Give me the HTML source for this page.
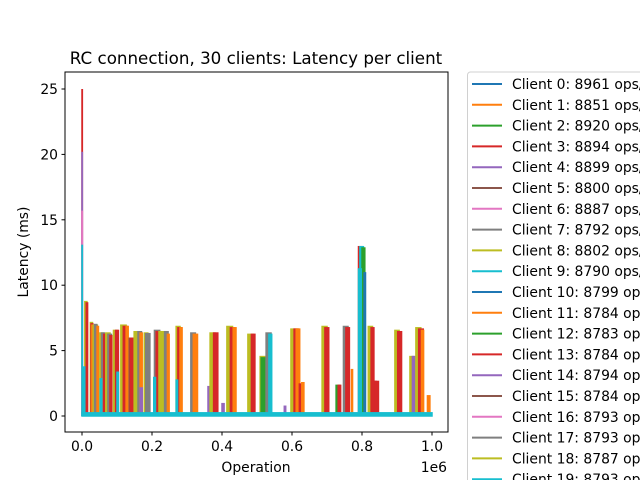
<!DOCTYPE html>
<html><head><meta charset="utf-8"><style>
html,body{margin:0;padding:0;background:#fff;width:640px;height:480px;overflow:hidden}
svg{font-family:"DejaVu Sans","Liberation Sans",sans-serif}
</style></head><body>
<svg id="chart" width="640" height="480" viewBox="0 0 640 480" xmlns="http://www.w3.org/2000/svg">
<rect x="0" y="0" width="640" height="480" fill="#fff"/>
<text x="256" y="64" font-size="16.7" text-anchor="middle">RC connection, 30 clients: Latency per client</text>
<g id="marks"></g>
<rect x="65" y="72" width="383" height="360" fill="none" stroke="#000" stroke-width="1"/>
<g id="xt"></g>
<g id="yt"></g>
<text x="256" y="472" font-size="13.9" text-anchor="middle">Operation</text>
<text x="447" y="472" font-size="13.9" text-anchor="end">1e6</text>
<text transform="translate(28,252) rotate(-90)" font-size="13.9" text-anchor="middle">Latency (ms)</text>
<g id="legend">
<rect x="467.5" y="72" width="200" height="420" rx="3" fill="#fff" stroke="#d0d0d0"/>
</g>
</svg>
<script>
const colors=["#1f77b4","#ff7f0e","#2ca02c","#d62728","#9467bd","#8c564b","#e377c2","#7f7f7f","#bcbd22","#17becf"];
const clientOps=[8961,8851,8920,8894,8899,8800,8887,8792,8802,8790,8799,8784,8783,8784,8794,8784,8793,8793,8787,8793];
const xTicks=[0,0.2,0.4,0.6,0.8,1.0];
const yTicks=[0,5,10,15,20,25];
const baselineLat=0.3;
// spikes: start op (K), end op (K), latency ms, client
const spikeStart=[0,0,0,0,8,12,4,24,26,28,32,36,43,51,56,62,52,68,74,80,90,96,100,111,118,126,135,138,149,160,166,166,178,182,207,212,220,205,228,236,244,269,274,280,269,311,318,360,366,376,400,414,424,432,474,484,509,512,526,534,578,597,606,612,621,628,686,694,726,732,747,754,770,790,794,800,806,790,818,826,830,838,894,902,937,944,954,962,970,987];
const spikeEnd=[1,1,1,1,14,16,8,30,31,32,44,42,47,62,64,66,56,80,84,85,100,104,104,126,130,132,145,147,168,170,172,172,188,194,222,224,228,210,240,246,249,280,284,286,273,324,330,366,380,388,406,430,436,440,490,494,526,522,540,542,582,614,618,622,632,634,700,705,736,739,760,764,773,800,804,808,810,798,830,834,840,847,906,913,948,954,968,975,976,994];
const spikeLat=[25,20.2,15.7,13.1,8.8,8.7,3.8,7.2,7.1,7.0,7.0,7.05,6.9,6.4,6.4,6.3,2.9,6.4,6.3,6.2,6.6,6.6,3.4,7.0,6.9,6.9,6.0,6.0,6.5,6.5,6.4,2.2,6.4,6.35,6.6,6.5,6.5,3.0,6.5,6.5,6.3,6.9,6.8,6.8,2.8,6.4,6.3,2.3,6.4,6.4,1.0,6.9,6.8,6.8,6.3,6.3,4.6,4.5,6.4,6.3,0.8,6.7,6.7,6.7,2.5,2.6,6.9,6.8,2.4,2.4,6.9,6.8,3.6,13.0,13.0,12.9,11.0,11.3,6.9,6.8,2.7,2.7,6.6,6.5,4.6,4.6,6.8,6.7,6.6,1.6];
const spikeClient=[3,4,6,9,8,3,9,8,3,1,8,7,1,8,7,3,9,8,7,3,8,3,9,8,3,1,5,3,8,7,1,4,8,7,7,3,8,9,8,7,1,8,3,1,9,7,1,4,8,3,4,8,3,1,8,3,8,2,7,9,4,8,3,1,3,1,8,3,2,3,7,3,1,3,9,2,0,9,8,3,3,3,8,3,8,4,8,3,1,1];

const X0=82,XS=350,Y0=416,YS=13.08;
const xs=v=>X0+v*XS;
const ys=v=>Y0-v*YS;
const NS="http://www.w3.org/2000/svg";
function mk(tag,attrs,parent){const e=document.createElementNS(NS,tag);for(const k in attrs)e.setAttribute(k,attrs[k]);parent.appendChild(e);return e;}
const marks=document.getElementById('marks');
for(let i=0;i<spikeStart.length;i++){
  const x1=xs(spikeStart[i]/1000),x2=xs(spikeEnd[i]/1000);
  const r=mk('rect',{x:x1-0.75,y:ys(spikeLat[i]),width:Math.max(1.5,x2-x1+1.5),height:ys(0)-ys(spikeLat[i]),fill:colors[spikeClient[i]%10]},marks);
  
  
}
const base=mk('rect',{x:xs(0)-0.75,y:ys(baselineLat),width:xs(1)-xs(0)+1.5,height:ys(0)-ys(baselineLat)+0.75,fill:colors[9]},marks);


const xt=document.getElementById('xt');
xTicks.forEach(t=>{
  const x=xs(t);
  mk('line',{x1:x,x2:x,y1:432,y2:435.5,stroke:'#000'},xt);
  const tx=mk('text',{x:x,y:451,'font-size':13.9,'text-anchor':'middle'},xt);
  tx.textContent=t.toFixed(1);
  
  
});
const yt=document.getElementById('yt');
yTicks.forEach(t=>{
  const y=ys(t);
  mk('line',{x1:61.5,x2:65,y1:y,y2:y,stroke:'#000'},yt);
  const tx=mk('text',{x:58,y:y+5,'font-size':13.9,'text-anchor':'end'},yt);
  tx.textContent=t;
  
  
});
const lg=document.getElementById('legend');
clientOps.forEach((v,i)=>{
  const y=84+i*20.8;
  const g=mk('g',{},lg);
  
  
  mk('line',{x1:472,x2:502,y1:y,y2:y,stroke:colors[i%10],'stroke-width':2},g);
  const tx=mk('text',{x:512,y:y+5,'font-size':13.9},g);
  tx.textContent='Client '+i+': '+v+' ops/s';
});
</script>
</body></html>
